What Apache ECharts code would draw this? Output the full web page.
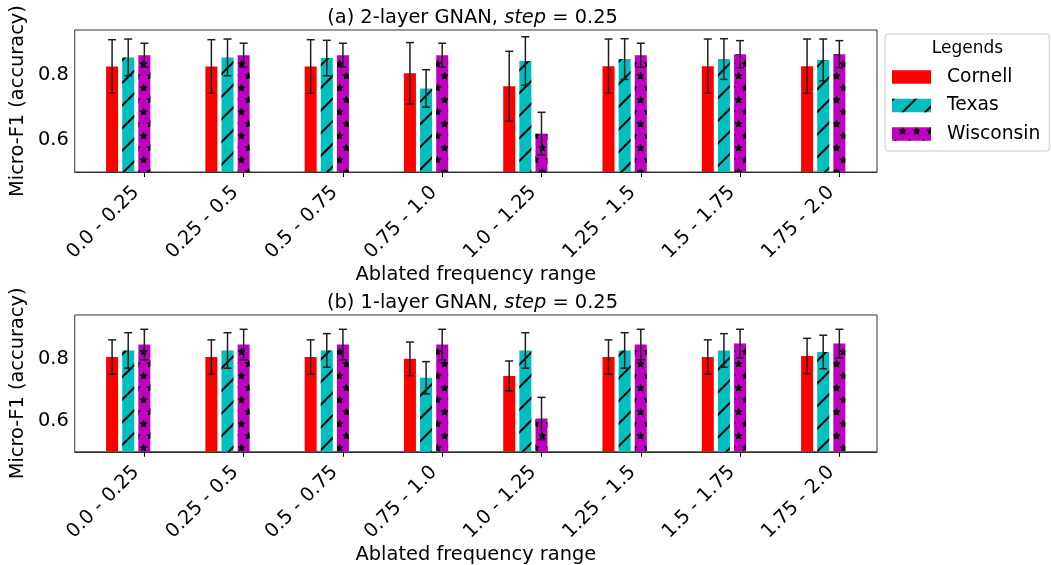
<!DOCTYPE html>
<html>
<head>
<meta charset="utf-8">
<script src="https://cdn.jsdelivr.net/npm/echarts@6/dist/echarts.min.js"></script>
<style>
  html, body { margin: 0; padding: 0; background: #fff; }
  #main { width: 1051px; height: 565px; }
</style>
</head>
<body>
<div id="main"></div>
<script>
var categories = ['0.0 - 0.25', '0.25 - 0.5', '0.5 - 0.75', '0.75 - 1.0', '1.0 - 1.25', '1.25 - 1.5', '1.5 - 1.75', '1.75 - 2.0'];
var yTicks = [0.6, 0.8];
var datasets = ['Cornell', 'Texas', 'Wisconsin'];

// (a) 2-layer
var cornell2 = [0.827, 0.827, 0.827, 0.806, 0.766, 0.828, 0.828, 0.828];
var cornell2Err = [0.083, 0.083, 0.083, 0.095, 0.108, 0.084, 0.084, 0.084];
var texas2 = [0.855, 0.855, 0.853, 0.759, 0.844, 0.850, 0.850, 0.847];
var texas2Err = [0.057, 0.057, 0.055, 0.058, 0.075, 0.063, 0.063, 0.065];
var wisconsin2 = [0.862, 0.862, 0.862, 0.862, 0.619, 0.862, 0.865, 0.865];
var wisconsin2Err = [0.037, 0.037, 0.037, 0.037, 0.066, 0.037, 0.042, 0.042];

// (b) 1-layer
var cornell1 = [0.805, 0.805, 0.805, 0.799, 0.744, 0.805, 0.805, 0.808];
var cornell1Err = [0.055, 0.055, 0.055, 0.054, 0.048, 0.055, 0.055, 0.057];
var texas1 = [0.826, 0.826, 0.826, 0.738, 0.826, 0.826, 0.826, 0.821];
var texas1Err = [0.057, 0.057, 0.054, 0.052, 0.057, 0.057, 0.054, 0.054];
var wisconsin1 = [0.845, 0.845, 0.845, 0.845, 0.607, 0.845, 0.848, 0.848];
var wisconsin1Err = [0.049, 0.049, 0.049, 0.049, 0.068, 0.049, 0.046, 0.046];

var FONT = 'DejaVu Sans';
var FS = 19.4;
var colors = ['#ff0000', '#00bfbf', '#bf00bf'];
var offsets = [-0.325, -0.1625, 0];   // bar centre relative to tick
var labelShift = -0.083;             // label anchor relative to tick

// wanted x range; echarts widens a value axis holding bars by the bar overflow, so undo that
var X_MIN = -0.762, X_MAX = 7.44, PLOT_W = 809, BAR_W = 12;
var xPad = (X_MAX - X_MIN) * BAR_W / (2 * PLOT_W);

var starPath = 'path://M50,0 L64.7,29.8 L97.6,34.5 L73.8,57.7 L79.4,90.5 L50,75 L20.6,90.5 L26.2,57.7 L2.4,34.5 L35.3,29.8 Z';
var decals = [
    null,
    { symbol: 'rect', symbolSize: 1, color: '#000', dashArrayX: [1, 0], dashArrayY: [1.2, 13.6], rotation: -Math.PI / 4 },
    { symbol: starPath, symbolSize: 1.2, color: '#000', dashArrayX: [[7, 7], [0, 7, 7, 0]], dashArrayY: [7, 4.3] }
];

var tickIdx = categories.map(function (c, i) { return i; });
var labelPos = categories.map(function (c, i) { return i + labelShift; });

function pairs(vals, k) {
    return vals.map(function (v, i) { return [i + offsets[k], v]; });
}
function errPairs(vals, errs, k) {
    return vals.map(function (v, i) { return [i + offsets[k], v, errs[i]]; });
}

function renderError(params, api) {
    var x = api.value(0), y = api.value(1), e = api.value(2);
    var top = api.coord([x, y + e]);
    var bot = api.coord([x, y - e]);
    var cap = 4;
    var st = { stroke: '#1e1e1e', lineWidth: 1.5 };
    return {
        type: 'group',
        children: [
            { type: 'line', shape: { x1: top[0], y1: top[1], x2: bot[0], y2: bot[1] }, style: st },
            { type: 'line', shape: { x1: top[0] - cap, y1: top[1], x2: top[0] + cap, y2: top[1] }, style: st },
            { type: 'line', shape: { x1: bot[0] - cap, y1: bot[1], x2: bot[0] + cap, y2: bot[1] }, style: st }
        ]
    };
}

function xAxisOf(gi) {
    return {
        type: 'value', gridIndex: gi, min: X_MIN + xPad, max: X_MAX - xPad, z: 3,
        name: 'Ablated frequency range', nameLocation: 'middle', nameGap: 85,
        nameTextStyle: { fontFamily: FONT, fontSize: FS, color: '#000' },
        axisLine: { show: true, lineStyle: { color: '#333', width: 1 } },
        splitLine: { show: false },
        axisTick: { show: true, length: 5, customValues: tickIdx, lineStyle: { color: '#000' } },
        axisLabel: {
            customValues: labelPos, rotate: 45, margin: 17.5,
            fontFamily: FONT, fontSize: FS, color: '#000',
            formatter: function (v) { return categories[Math.round(v - labelShift)]; }
        }
    };
}
function yAxisOf(gi) {
    return {
        type: 'value', gridIndex: gi, min: 0.5, max: 0.94,
        name: 'Micro-F1 (accuracy)', nameLocation: 'middle', nameGap: 43,
        nameTextStyle: { fontFamily: FONT, fontSize: FS, color: '#000' },
        axisLine: { show: false },
        splitLine: { show: false },
        axisTick: { show: true, length: 5, customValues: yTicks, lineStyle: { color: '#000' } },
        axisLabel: {
            customValues: yTicks, margin: 6, fontFamily: FONT, fontSize: FS, color: '#000',
            formatter: function (v) { return v.toFixed(1); }
        }
    };
}

function seriesOf(gi, vals, errs) {
    var out = [];
    vals.forEach(function (v, k) {
        out.push({
            name: datasets[k], type: 'bar', xAxisIndex: gi, yAxisIndex: gi,
            barWidth: BAR_W, barGap: '-100%',
            itemStyle: { color: colors[k], decal: decals[k] || undefined },
            data: pairs(v, k)
        });
    });
    vals.forEach(function (v, k) {
        out.push({
            type: 'custom', xAxisIndex: gi, yAxisIndex: gi, z: 5,
            renderItem: renderError, encode: { x: 0, y: 1 },
            data: errPairs(v, errs[k], k)
        });
    });
    return out;
}

function titleRich() {
    return {
        n: { fontFamily: FONT, fontSize: FS, fontWeight: 'normal', color: '#000' },
        i: { fontFamily: FONT, fontSize: FS, fontWeight: 'normal', fontStyle: 'italic', color: '#000' }
    };
}

function gnanChart() {
    var myChart = echarts.init(document.getElementById('main'));
    var option = {
        animation: false,
        backgroundColor: '#fff',
        title: [
            {
                text: '{n|(a) 2-layer GNAN, }{i|step}{n| = 0.25}',
                left: 472.5, top: 8, padding: 0, textAlign: 'center',
                textStyle: { fontWeight: 'normal', rich: titleRich() }
            },
            {
                text: '{n|(b) 1-layer GNAN, }{i|step}{n| = 0.25}',
                left: 472.5, top: 293, padding: 0, textAlign: 'center',
                textStyle: { fontWeight: 'normal', rich: titleRich() }
            },
            {
                text: 'Legends', left: 967.5, top: 40, padding: 0, textAlign: 'center',
                textStyle: { fontFamily: FONT, fontSize: 17, fontWeight: 'normal', color: '#000' }
            }
        ],
        legend: {
            data: datasets, orient: 'vertical', left: 885, top: 34,
            padding: [33, 9, 7, 7], itemGap: 8.5, itemWidth: 39, itemHeight: 13.5,
            icon: 'rect', borderColor: '#cccccc', borderWidth: 1, borderRadius: 3,
            backgroundColor: '#fff', z: 1,
            textStyle: { fontFamily: FONT, fontSize: 18.7, color: '#000', lineHeight: 20, padding: [0, 0, 0, 11] }
        },
        grid: [
            { left: 68, top: 30, width: PLOT_W, height: 142, show: true, borderColor: '#333', borderWidth: 1 },
            { left: 68, top: 315, width: PLOT_W, height: 142, show: true, borderColor: '#333', borderWidth: 1 }
        ],
        xAxis: [xAxisOf(0), xAxisOf(1)],
        yAxis: [yAxisOf(0), yAxisOf(1)],
        series: seriesOf(0, [cornell2, texas2, wisconsin2], [cornell2Err, texas2Err, wisconsin2Err])
            .concat(seriesOf(1, [cornell1, texas1, wisconsin1], [cornell1Err, texas1Err, wisconsin1Err]))
    };
    myChart.setOption(option);
}

gnanChart();
</script>
</body>
</html>
